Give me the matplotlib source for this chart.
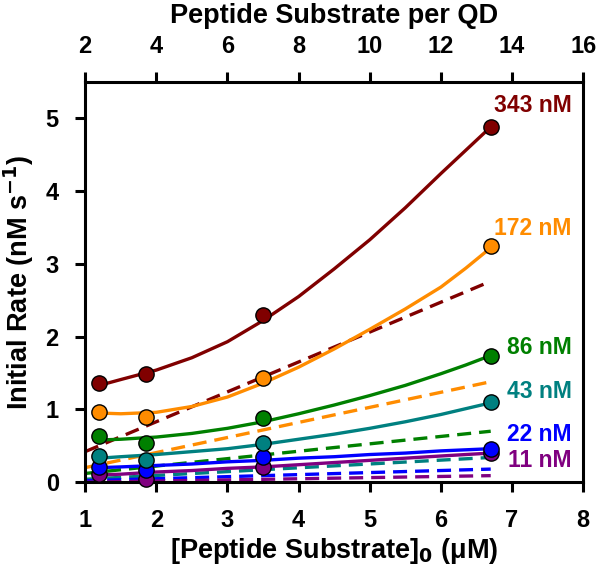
import numpy as np
import matplotlib
matplotlib.use("Agg")
import matplotlib.pyplot as plt

plt.rcParams["font.family"] = ["Liberation Sans", "DejaVu Sans"]

# measured points: [peptide substrate]0 (uM) vs initial rate (nM/s)
x_pts = [1.2, 1.86, 3.5, 6.7]
enz = ["343 nM", "172 nM", "86 nM", "43 nM", "22 nM", "11 nM"]
colors = ["#800000", "#ff8c00", "#008000", "#008080", "#0000ff", "#800080"]
rate_343 = [1.36, 1.49, 2.29, 4.88]
rate_172 = [0.97, 0.90, 1.43, 3.24]
rate_86 = [0.63, 0.54, 0.88, 1.74]
rate_43 = [0.36, 0.31, 0.54, 1.10]
rate_22 = [0.21, 0.17, 0.34, 0.46]
rate_11 = [0.115, 0.05, 0.215, 0.40]

# solid fit curves
x_fit = [1.2, 1.5, 2, 2.5, 3, 3.5, 4, 4.5, 5, 5.5, 6, 6.35, 6.7]
fit_343 = [1.33, 1.41, 1.54, 1.71, 1.93, 2.22, 2.55, 2.93, 3.33, 3.77, 4.24, 4.56, 4.88]
fit_172 = [0.95, 0.94, 0.96, 1.04, 1.17, 1.36, 1.58, 1.83, 2.10, 2.38, 2.68, 2.94, 3.22]
fit_86 = [0.58, 0.59, 0.62, 0.67, 0.74, 0.83, 0.94, 1.06, 1.19, 1.33, 1.49, 1.61, 1.74]
fit_43 = [0.33, 0.35, 0.38, 0.42, 0.46, 0.52, 0.59, 0.66, 0.74, 0.83, 0.93, 1.01, 1.09]
fit_22 = [0.20, 0.21, 0.23, 0.25, 0.28, 0.30, 0.33, 0.35, 0.38, 0.40, 0.43, 0.445, 0.46]
fit_11 = [0.10, 0.11, 0.14, 0.16, 0.19, 0.21, 0.24, 0.27, 0.30, 0.33, 0.36, 0.38, 0.40]

# dashed lines (start at x=1.0, end at x=6.7)
x_dash = [1.0, 6.7]
dash_343 = [0.42, 2.76]
dash_172 = [0.20, 1.38]
dash_86 = [0.12, 0.70]
dash_43 = [0.04, 0.34]
dash_22 = [0.02, 0.18]
dash_11 = [0.00, 0.09]

rates = [rate_343, rate_172, rate_86, rate_43, rate_22, rate_11]
fits = [fit_343, fit_172, fit_86, fit_43, fit_22, fit_11]
dashes = [dash_343, dash_172, dash_86, dash_43, dash_22, dash_11]
label_y = [5.17, 3.48, 1.85, 1.24, 0.66, 0.30]

tick_font = dict(weight="bold", size=17)

fig = plt.figure(figsize=(6.0, 5.72), dpi=100)
ax = fig.add_axes([0.142, 0.157, 0.83, 0.700])

for c, d in zip(colors, dashes):
    ax.plot(x_dash, d, color=c, lw=2.4, ls=(0, (4.2, 2.4)), zorder=2)
for c, f in zip(colors, fits):
    ax.plot(x_fit, f, color=c, lw=2.4, zorder=3, solid_capstyle="round")
for c, r in zip(colors[::-1], rates[::-1]):
    ax.plot(x_pts, r, "o", ms=11, mfc=c, mec="black", mew=1.0, zorder=4,
            clip_on=False)
for c, t, y in zip(colors, enz, label_y):
    ax.text(7.84, y, t, color=c, fontsize=16.5, fontweight="bold",
            ha="right", va="center")

ax.set_xlim(1, 8)
ax.set_ylim(0, 5.5)
ax.set_xticks(range(1, 9))
ax.set_yticks(range(0, 6))
for s in ax.spines.values():
    s.set_linewidth(2.2)
ax.tick_params(axis="both", direction="out", length=7, width=2.2, pad=12)
ax.set_xticklabels([str(v) for v in range(1, 9)], fontdict=tick_font)
ax.set_yticklabels([str(v) for v in range(0, 6)], fontdict=tick_font)
ax.set_xlabel("[Peptide Substrate]$_\\mathbf{0}$ (\u03bcM)", fontsize=19.5,
              fontweight="bold", labelpad=3)
ax.set_ylabel("Initial Rate (nM s$^{\\mathbf{-1}}$)", fontsize=19.5,
              fontweight="bold", labelpad=7)

sec = ax.secondary_xaxis("top", functions=(lambda v: 2 * v, lambda v: v / 2))
sec.set_xticks(range(2, 17, 2))
sec.tick_params(direction="out", length=7, width=2.2, pad=10)
sec.set_xticklabels([str(v) for v in range(2, 17, 2)], fontdict=tick_font)
sec.set_xlabel("Peptide Substrate per QD", fontsize=19.5, fontweight="bold",
               labelpad=9)

fig.savefig("out.png", dpi=100)
